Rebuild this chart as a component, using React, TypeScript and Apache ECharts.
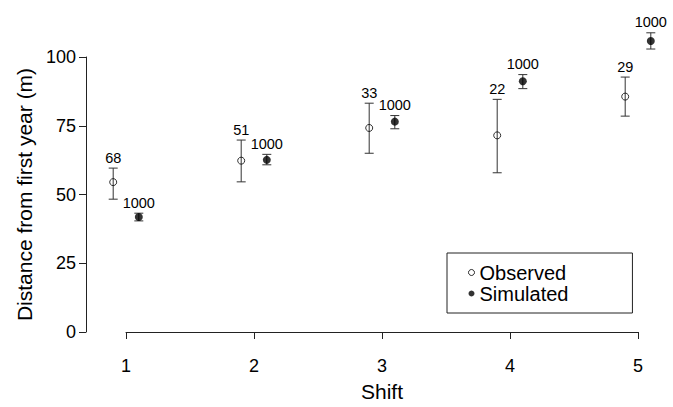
import React, { useEffect, useRef } from "react";
import * as echarts from "echarts";

const shifts = [1, 2, 3, 4, 5];
const obsMean = [54.5, 62.3, 74.2, 71.5, 85.6];
const obsLow = [48.3, 54.6, 65.0, 57.9, 78.5];
const obsHigh = [59.6, 69.8, 83.2, 84.6, 92.7];
const obsN = [68, 51, 33, 22, 29];
const simMean = [41.8, 62.6, 76.5, 91.2, 105.8];
const simLow = [40.4, 60.8, 73.9, 88.5, 102.9];
const simHigh = [43.2, 64.6, 78.7, 93.6, 108.8];
const simN = [1000, 1000, 1000, 1000, 1000];
const yTicks = [0, 25, 50, 75, 100];

const FONT = "Arial, 'Liberation Sans', Helvetica, sans-serif";
const DODGE = 0.1;

function errRender(params: any, api: any) {
  const x = api.value(0);
  const lo = api.coord([x, api.value(1)]);
  const hi = api.coord([x, api.value(2)]);
  const n = api.value(3);
  const hw = 4.5;
  const st = { stroke: "#333", lineWidth: 1 };
  return {
    type: "group",
    children: [
      { type: "line", shape: { x1: lo[0], y1: lo[1], x2: hi[0], y2: hi[1] }, style: st },
      { type: "line", shape: { x1: lo[0] - hw, y1: lo[1], x2: lo[0] + hw, y2: lo[1] }, style: st },
      { type: "line", shape: { x1: hi[0] - hw, y1: hi[1], x2: hi[0] + hw, y2: hi[1] }, style: st },
      {
        type: "text",
        x: hi[0],
        y: hi[1] - 3,
        style: {
          text: String(n),
          fontSize: 14.5,
          fontFamily: FONT,
          fill: "#000",
          align: "center",
          verticalAlign: "bottom",
        },
      },
    ],
  };
}

export default function App() {
  const ref = useRef<HTMLDivElement>(null);
  useEffect(() => {
    if (!ref.current) return;
    const chart = echarts.init(ref.current, undefined, { renderer: "svg" });
    const obsX = shifts.map((s) => s - DODGE);
    const simX = shifts.map((s) => s + DODGE);
    chart.setOption({
      animation: false,
      backgroundColor: "#fff",
      textStyle: { fontFamily: FONT },
      grid: { left: 126, right: 35, top: 57, bottom: 70, containLabel: false },
      xAxis: {
        type: "value",
        min: 1,
        max: 5,
        interval: 1,
        offset: 14,
        name: "Shift",
        nameLocation: "middle",
        nameGap: 35,
        nameTextStyle: { fontSize: 21, color: "#000", fontFamily: FONT },
        axisLine: { show: true, lineStyle: { color: "#222", width: 1 } },
        axisTick: { show: true, length: 7, lineStyle: { color: "#222" } },
        axisLabel: { fontSize: 18, color: "#000", margin: 11, fontFamily: FONT },
        splitLine: { show: false },
      },
      yAxis: {
        type: "value",
        min: yTicks[0],
        max: yTicks[yTicks.length - 1],
        interval: 25,
        offset: 40,
        name: "Distance from first year (m)",
        nameLocation: "middle",
        nameGap: 47,
        nameRotate: 90,
        nameTextStyle: { fontSize: 21, color: "#000", fontFamily: FONT },
        axisLine: { show: true, lineStyle: { color: "#222", width: 1 } },
        axisTick: { show: true, length: 7, lineStyle: { color: "#222" } },
        axisLabel: { fontSize: 18, color: "#000", margin: 10, fontFamily: FONT },
        splitLine: { show: false },
      },
      legend: {
        orient: "vertical",
        left: 447,
        top: 253,
        data: [
          { name: "Observed", icon: "circle", itemStyle: { color: "transparent", borderColor: "#000", borderWidth: 1 } },
          { name: "Simulated", icon: "circle", itemStyle: { color: "#000", borderWidth: 0 } },
        ],
        borderColor: "#222",
        borderWidth: 1,
        borderRadius: 0,
        padding: [9, 64, 9, 21],
        itemGap: 0,
        itemWidth: 6,
        itemHeight: 6,
        textStyle: { fontSize: 20, color: "#000", fontFamily: FONT, lineHeight: 21 },
        selectedMode: false,
      },
      series: [
        {
          type: "custom",
          name: "obsErr",
          silent: true,
          clip: false,
          renderItem: errRender,
          data: shifts.map((_, i) => [obsX[i], obsLow[i], obsHigh[i], obsN[i]]),
          z: 2,
        },
        {
          type: "custom",
          name: "simErr",
          silent: true,
          clip: false,
          renderItem: errRender,
          data: shifts.map((_, i) => [simX[i], simLow[i], simHigh[i], simN[i]]),
          z: 2,
        },
        {
          type: "scatter",
          name: "Observed",
          symbol: "circle",
          symbolSize: 7,
          clip: false,
          silent: true,
          itemStyle: { color: "transparent", borderColor: "#000", borderWidth: 1 },
          data: shifts.map((_, i) => [obsX[i], obsMean[i]]),
          z: 3,
        },
        {
          type: "scatter",
          name: "Simulated",
          symbol: "circle",
          symbolSize: 8,
          clip: false,
          silent: true,
          itemStyle: { color: "#000" },
          data: shifts.map((_, i) => [simX[i], simMean[i]]),
          z: 3,
        },
      ],
    });
    return () => chart.dispose();
  }, []);
  return (
    <div
      ref={ref}
      style={{ position: "absolute", left: 0, top: 0, width: 673, height: 407 }}
    />
  );
}
